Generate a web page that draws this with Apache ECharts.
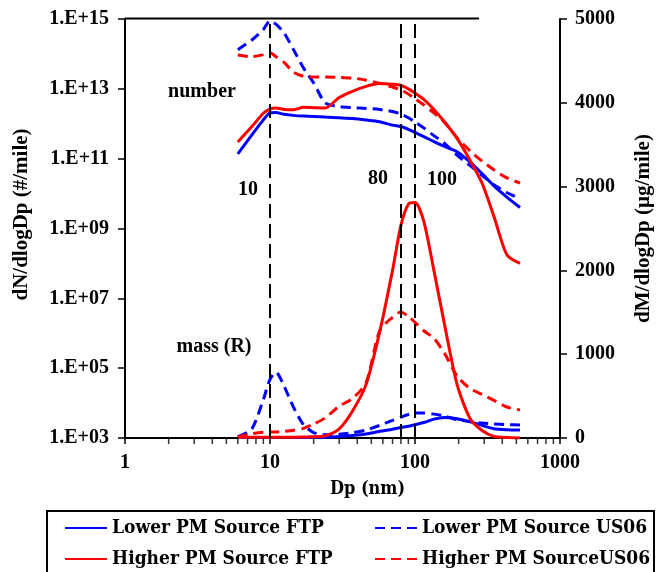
<!DOCTYPE html>
<html>
<head>
<meta charset="utf-8">
<script src="https://cdn.jsdelivr.net/npm/echarts@6/dist/echarts.min.js"></script>
<style>
  html, body { margin: 0; padding: 0; background: #fff; }
  #chart { width: 662px; height: 572px; }
</style>
</head>
<body>
<div id="chart"></div>
<script>
// particle diameter bins (nm), shared by every curve
var dp = [6, 7.5, 9, 10, 11, 12.5, 14.5, 17, 20, 24, 30, 37, 46, 57, 70, 80, 90, 100, 115, 135, 160, 195, 240, 290, 350, 430, 530]

// number curves (log10 of dN/dlogDp, #/mile)
var lowerFtpNumLog = [11.14, 11.68, 12.11, 12.31, 12.32, 12.27, 12.24, 12.22, 12.21, 12.19, 12.17, 12.15, 12.11, 12.06, 11.96, 11.92, 11.84, 11.75, 11.63, 11.49, 11.35, 11.20, 10.90, 10.57, 10.22, 9.90, 9.60]
var lowerUs06NumLog = [14.12, 14.40, 14.70, 14.95, 14.85, 14.60, 14.13, 13.60, 13.17, 12.60, 12.49, 12.46, 12.44, 12.41, 12.35, 12.28, 12.17, 12.05, 11.88, 11.66, 11.44, 11.10, 10.80, 10.52, 10.25, 10.03, 9.85]
var higherFtpNumLog = [11.48, 11.92, 12.30, 12.42, 12.45, 12.41, 12.40, 12.47, 12.46, 12.45, 12.75, 12.93, 13.07, 13.15, 13.13, 13.10, 13.00, 12.88, 12.70, 12.41, 12.05, 11.58, 10.95, 10.30, 9.35, 8.25, 8.00]
var higherUs06NumLog = [13.97, 13.92, 13.98, 14.03, 13.92, 13.76, 13.48, 13.36, 13.34, 13.34, 13.33, 13.31, 13.25, 13.16, 13.05, 12.97, 12.85, 12.72, 12.54, 12.31, 12.04, 11.60, 11.22, 10.93, 10.68, 10.45, 10.30]

// mass curves, dM/dlogDp (ug/mile) on the right axis
var lowerFtpMass = [5, 5, 5, 5, 5, 6, 6, 7, 8, 10, 18, 30, 48, 80, 105, 125, 140, 160, 185, 225, 245, 230, 195, 150, 110, 98, 95]
var lowerUs06Mass = [15, 110, 460, 700, 785, 620, 370, 160, 65, 38, 45, 62, 95, 150, 210, 250, 280, 298, 298, 285, 262, 218, 195, 178, 168, 160, 155]
var higherFtpMass = [10, 10, 10, 10, 10, 10, 10, 12, 15, 25, 110, 320, 640, 1260, 2000, 2540, 2790, 2810, 2585, 2000, 1350, 640, 230, 90, 20, 5, 0]
var higherUs06Mass = [12, 50, 68, 70, 72, 80, 92, 115, 165, 240, 380, 470, 660, 1280, 1440, 1505, 1450, 1380, 1280, 1190, 1010, 740, 590, 520, 450, 370, 335]

var names = ['Lower PM Source FTP', 'Lower PM Source US06', 'Higher PM Source FTP', 'Higher PM SourceUS06']
var refLines = [10, 80, 100]
var xMinorTicks = [2, 3, 4, 5, 6, 7, 8, 9, 20, 30, 40, 50, 60, 70, 80, 90, 200, 300, 400, 500, 600, 700, 800, 900]

var BLUE = '#0000ff'
var RED = '#ff0000'
var serif = '"Liberation Serif", "Times New Roman", serif'
var cambria = '"DejaVu Serif Condensed", "Liberation Serif", serif'

function numPairs(arr) {
  return dp.map(function (d, i) { return [d, Math.pow(10, arr[i])] })
}
function massPairs(arr) {
  return dp.map(function (d, i) { return [d, arr[i]] })
}
function curve(name, color, dashed, data, yIdx) {
  return {
    type: 'line',
    name: name,
    yAxisIndex: yIdx,
    data: data,
    smooth: 0.25,
    symbol: 'none',
    lineStyle: { color: color, width: 3, type: dashed ? [10, 6] : 'solid' },
    itemStyle: { color: color },
    silent: true
  }
}

var chart = echarts.init(document.getElementById('chart'))

var series = [
  curve(names[0], BLUE, false, numPairs(lowerFtpNumLog), 0),
  curve(names[1], BLUE, true, numPairs(lowerUs06NumLog), 0),
  curve(names[2], RED, false, numPairs(higherFtpNumLog), 0),
  curve(names[3], RED, true, numPairs(higherUs06NumLog), 0),
  curve(names[0], BLUE, false, massPairs(lowerFtpMass), 1),
  curve(names[1], BLUE, true, massPairs(lowerUs06Mass), 1),
  curve(names[2], RED, false, massPairs(higherFtpMass), 1),
  curve(names[3], RED, true, massPairs(higherUs06Mass), 1),
  {
    // minor ticks of the log x axis + the dashed reference lines
    type: 'scatter',
    name: 'ticks',
    yAxisIndex: 0,
    data: xMinorTicks.map(function (v) { return [v, 1e3] }),
    symbol: 'rect',
    symbolSize: [1.5, 6],
    symbolOffset: [0, 3],
    itemStyle: { color: '#000' },
    clip: false,
    silent: true,
    z: 5,
    markLine: {
      silent: true,
      symbol: 'none',
      label: { show: false },
      lineStyle: { color: '#000', width: 2, type: [14, 6] },
      data: refLines.map(function (v) { return { xAxis: v } })
    }
  }
]

var legendBase = {
  orient: 'vertical',
  top: 518,
  padding: 0,
  itemWidth: 42,
  itemHeight: 14,
  itemGap: 11,
  selectedMode: false,
  // hide the circle that line series put on their legend icon
  itemStyle: { color: 'rgba(0,0,0,0)', borderWidth: 0 },
  textStyle: { fontFamily: cambria, fontWeight: 'bold', fontSize: 19, lineHeight: 20, color: '#000' }
}

var option = {
  animation: false,
  backgroundColor: '#fff',
  grid: { left: 125, right: 90, top: 19, bottom: 134 },
  xAxis: {
    type: 'log',
    logBase: 10,
    min: 1,
    max: 1000,
    interval: 1,
    name: 'Dp (nm)',
    nameLocation: 'middle',
    nameGap: 42,
    nameTextStyle: { fontFamily: cambria, fontWeight: 'bold', fontSize: 18, color: '#000', padding: [0, 0, 0, 50] },
    axisLine: { lineStyle: { color: '#000', width: 2 } },
    axisTick: { length: 6, lineStyle: { color: '#000', width: 1.5 } },
    minorTick: { show: false },
    splitLine: { show: false },
    axisLabel: {
      margin: 15,
      fontFamily: serif, fontWeight: 'bold', fontSize: 20, color: '#000',
      formatter: function (v) { return String(Math.round(v)) }
    }
  },
  yAxis: [
    {
      type: 'log',
      logBase: 10,
      min: 1e3,
      max: 1e15,
      interval: 2,
      position: 'left',
      name: 'dN/dlogDp (#/mile)',
      nameLocation: 'middle',
      nameRotate: 90,
      nameGap: 93,
      nameTextStyle: { fontFamily: serif, fontWeight: 'bold', fontSize: 21, color: '#000', padding: [0, 0, 0, 28] },
      axisLine: { show: true, lineStyle: { color: '#000', width: 2 } },
      axisTick: { show: true, length: 7, lineStyle: { color: '#000', width: 1.5 } },
      splitLine: { show: false },
      axisLabel: {
        margin: 16,
        fontFamily: serif, fontWeight: 'bold', fontSize: 20, color: '#000',
        formatter: function (v) {
          var e = Math.round(Math.log10(v))
          return '1.E+' + (e < 10 ? '0' + e : e)
        }
      }
    },
    {
      type: 'value',
      min: 0,
      max: 5000,
      interval: 1000,
      position: 'right',
      name: 'dM/dlogDp (\u00b5g/mile)',
      nameLocation: 'middle',
      nameRotate: 90,
      nameGap: 73,
      nameTextStyle: { fontFamily: serif, fontWeight: 'bold', fontSize: 21, color: '#000' },
      axisLine: { show: true, lineStyle: { color: '#000', width: 2 } },
      axisTick: { show: true, length: 7, lineStyle: { color: '#000', width: 1.5 } },
      splitLine: { show: false },
      axisLabel: {
        margin: 15, fontFamily: serif, fontWeight: 'bold', fontSize: 20, color: '#000',
        formatter: function (v) { return String(v) }
      }
    }
  ],
  legend: [
    Object.assign({}, legendBase, { left: 64, data: [names[0], names[2]] }),
    Object.assign({}, legendBase, { left: 374, data: [names[1], names[3]] })
  ],
  graphic: [
    { type: 'line', shape: { x1: 125, y1: 18.5, x2: 479, y2: 18.5 }, style: { stroke: '#000', lineWidth: 2 }, silent: true },
    { type: 'rect', shape: { x: 47, y: 511, width: 607, height: 80 }, style: { fill: 'none', stroke: '#000', lineWidth: 2 }, silent: true },
    { type: 'text', x: 202, y: 92, style: { text: 'number', font: 'bold 20px ' + serif, fill: '#000', align: 'center', verticalAlign: 'middle' }, silent: true },
    { type: 'text', x: 248, y: 190, style: { text: '10', font: 'bold 20px ' + serif, fill: '#000', align: 'center', verticalAlign: 'middle' }, silent: true },
    { type: 'text', x: 378, y: 179, style: { text: '80', font: 'bold 20px ' + serif, fill: '#000', align: 'center', verticalAlign: 'middle' }, silent: true },
    { type: 'text', x: 442, y: 180, style: { text: '100', font: 'bold 20px ' + serif, fill: '#000', align: 'center', verticalAlign: 'middle' }, silent: true },
    { type: 'text', x: 214, y: 347, style: { text: 'mass (R)', font: 'bold 20px ' + serif, fill: '#000', align: 'center', verticalAlign: 'middle' }, silent: true }
  ],
  series: series
}

chart.setOption(option)
</script>
</body>
</html>
